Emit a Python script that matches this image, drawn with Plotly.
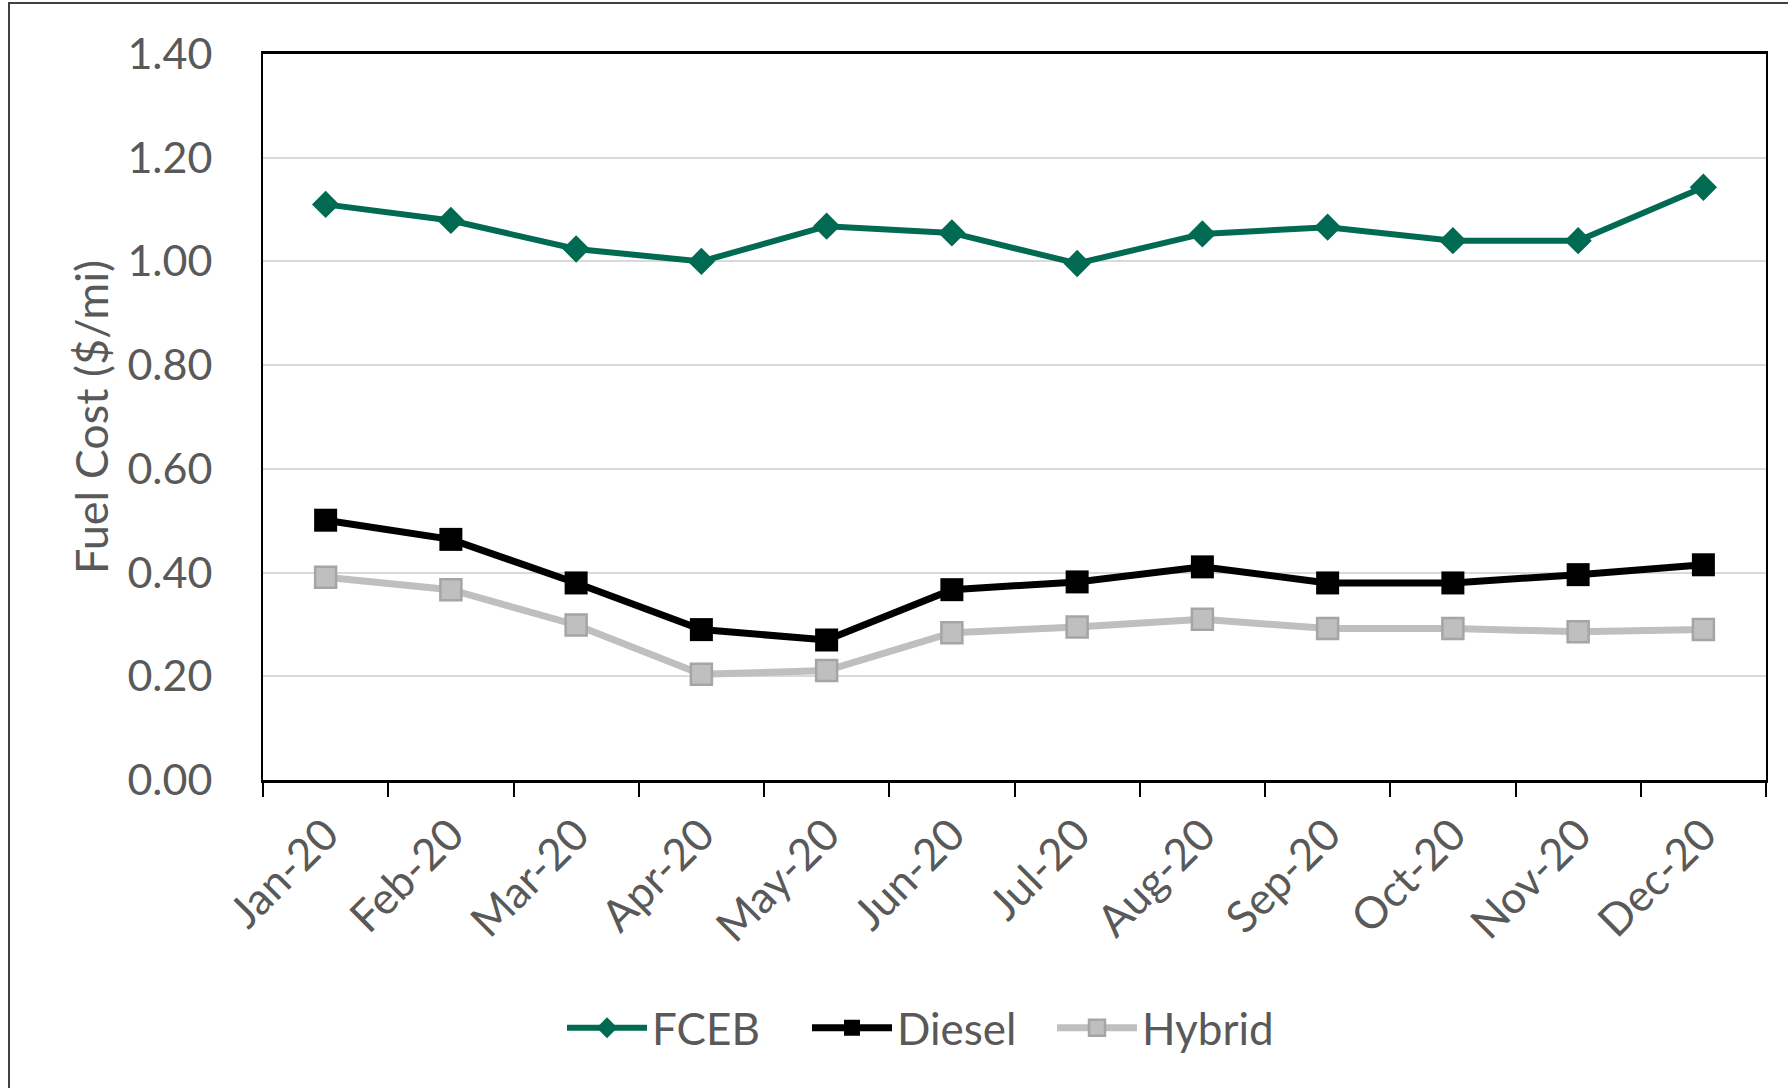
import plotly.graph_objects as go

months = ["Jan-20", "Feb-20", "Mar-20", "Apr-20", "May-20", "Jun-20",
          "Jul-20", "Aug-20", "Sep-20", "Oct-20", "Nov-20", "Dec-20"]
fceb = [1.110, 1.079, 1.024, 1.000, 1.068, 1.055, 0.996, 1.053, 1.066, 1.040, 1.040, 1.143]
diesel = [0.501, 0.464, 0.380, 0.290, 0.270, 0.367, 0.382, 0.411, 0.380, 0.380, 0.396, 0.415]
hybrid = [0.391, 0.367, 0.299, 0.204, 0.211, 0.284, 0.295, 0.310, 0.292, 0.292, 0.286, 0.290]
y_ticks = [0.0, 0.2, 0.4, 0.6, 0.8, 1.0, 1.2, 1.4]

FONT = "Lato"
TXT = "#595959"

fig = go.Figure()
fig.add_trace(go.Scatter(x=months, y=fceb, name="FCEB", mode="lines+markers",
                         line=dict(color="#006A52", width=6),
                         marker=dict(symbol="diamond", size=21, color="#006A52")))
fig.add_trace(go.Scatter(x=months, y=diesel, name="Diesel", mode="lines+markers",
                         line=dict(color="#000000", width=7),
                         marker=dict(symbol="square", size=23, color="#000000")))
fig.add_trace(go.Scatter(x=months, y=hybrid, name="Hybrid", mode="lines+markers",
                         line=dict(color="#BFBFBF", width=7),
                         marker=dict(symbol="square", size=21, color="#BFBFBF",
                                     line=dict(color="#A5A5A5", width=2.5))))

L, R, T, B = 263, 22, 54, 308
W, H = 1788, 1088
pw = W - L - R
ph = H - T - B

fig.update_layout(
    width=W, height=H,
    margin=dict(l=L, r=R, t=T, b=B),
    paper_bgcolor="white", plot_bgcolor="white",
    font=dict(family=FONT, size=42, color=TXT),
    showlegend=True,
    legend=dict(orientation="h", xref="container", yref="container",
                x=562 / W, xanchor="left", y=0.055, yanchor="middle",
                font=dict(size=44, color=TXT), itemwidth=80,
                entrywidth=150, entrywidthmode="pixels",
                bgcolor="rgba(0,0,0,0)"),
    xaxis=dict(type="category", range=[-0.5, 11.5], tickson="boundaries",
               ticks="outside", ticklen=14, tickwidth=2, tickcolor="black",
               showline=True, linecolor="black", linewidth=3, mirror=True,
               showgrid=False, tickangle=-45, ticklabelstandoff=8,
               tickfont=dict(size=44, color=TXT)),
    yaxis=dict(range=[0, 1.4], tickvals=y_ticks, tickformat=".2f",
               showgrid=True, gridcolor="#D9D9D9", gridwidth=2,
               showline=True, linecolor="black", linewidth=2, mirror=True,
               ticks="", ticklabelstandoff=40, zeroline=False,
               tickfont=dict(size=43, color=TXT)),
)

fig.add_annotation(text="Fuel Cost ($/mi)", textangle=-90,
                   xref="paper", yref="paper",
                   x=(91 - L) / pw, y=0.5, xanchor="center", yanchor="middle",
                   showarrow=False, font=dict(size=45, color=TXT, family=FONT))

# outer chart frame (extends past the right and bottom edges like the original)
fig.add_shape(type="rect", xref="paper", yref="paper",
              x0=(9 - L) / pw, x1=(W + 40 - L) / pw,
              y0=-(B + 40) / ph, y1=(ph + T - 3) / ph,
              line=dict(color="#404040", width=2), fillcolor="rgba(0,0,0,0)",
              layer="below")

fig.write_html("out.html")
